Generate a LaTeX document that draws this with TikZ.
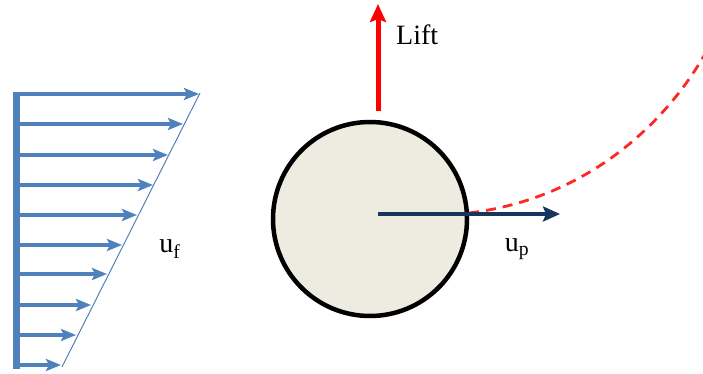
\documentclass[tikz,border=0pt]{standalone}
\usepackage{fontspec}
\setmainfont{Liberation Serif}
\usetikzlibrary{arrows.meta}
\definecolor{profblue}{HTML}{4F81BD}
\definecolor{navy}{HTML}{17365D}
\definecolor{ballfill}{HTML}{EEECE1}
\begin{document}
\begin{tikzpicture}[x=1pt,y=-1pt,
  prof/.style={draw=profblue,line width=3.4pt,-{Stealth[length=15pt,width=12pt,inset=3pt]}},
  lbl/.style={font=\fontsize{28}{32}\selectfont,inner sep=0pt}]
\useasboundingbox (0,0) rectangle (703,374);
% wall bar
\coordinate (bt) at (16,92);
\coordinate (bb) at (16,369);
\draw[profblue,line width=7pt] (bt) -- (bb);
% profile arrows
\foreach \y/\x [count=\i] in {94/199,124/183,155/168,185/153,215/137,245/122,274/107,305/91,335/76,365/61}{
  \coordinate (s\i) at (16,\y);
  \coordinate (e\i) at (\x,\y);
  \draw[prof] (s\i) -- (e\i);
}
\coordinate (lt) at (200,93);
\coordinate (lb) at (62,367);
\draw[profblue,line width=1pt] (lt) -- (lb);
\node[lbl] (uf) at (170,249) {u$_{\mathrm{f}}$};
% particle
\node[circle,draw=black,line width=4.5pt,fill=ballfill,minimum size=194pt,inner sep=0pt] (ball) at (370,219) {};
% trajectory
\coordinate (tr) at (710,45);
\begin{scope}
\clip (0,0) rectangle (703,374);
\draw[red!85!white,line width=2.8pt,dash pattern=on 10pt off 7pt] (ball.east) ++(0,-6) .. controls (590,198) and (670,120) .. (tr);
\end{scope}
% velocity
\coordinate (pc) at (378,214);
\coordinate (pe) at (560,214);
\draw[navy,line width=4.5pt,-{Stealth[length=17pt,width=15pt,inset=3pt]}] (pc) -- (pe);
\node[lbl] (up) at (517,249) {u$_{\mathrm{p}}$};
% lift
\coordinate (l0) at (378,111);
\coordinate (l1) at (378,4);
\draw[red,line width=5pt,-{Stealth[length=18pt,width=16pt,inset=3pt]}] (l0) -- (l1);
\node[lbl,anchor=west] (lift) at (396,35) {Lift};
\end{tikzpicture}
\end{document}
